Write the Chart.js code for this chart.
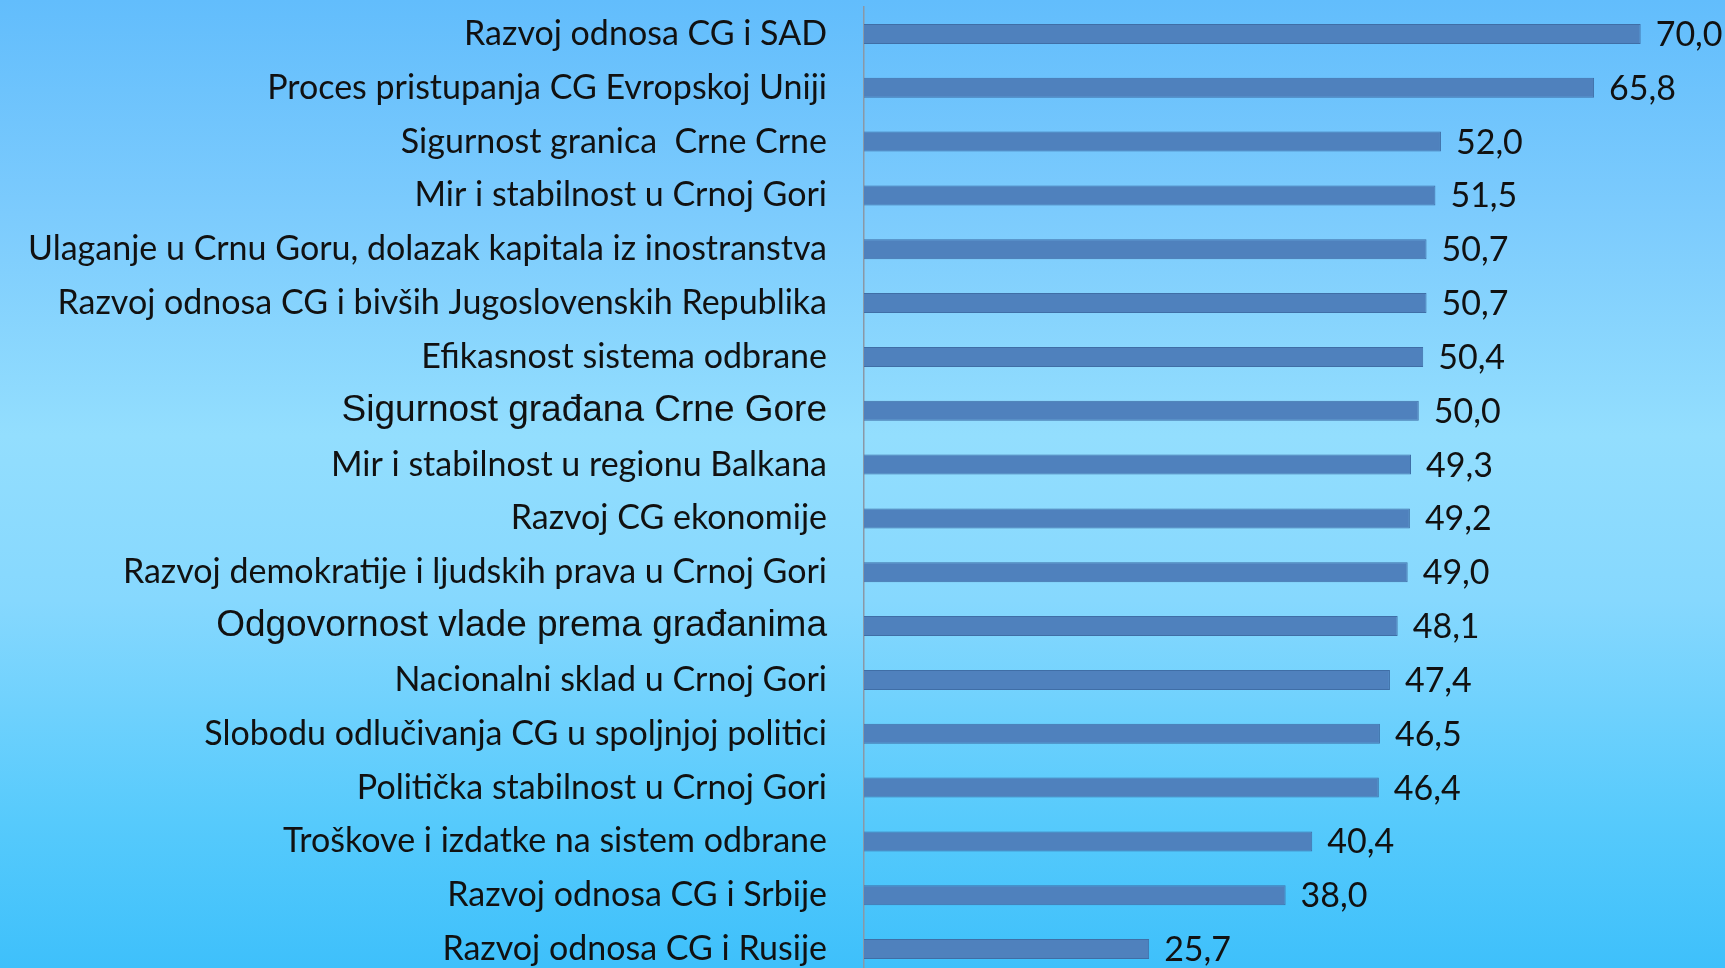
<!DOCTYPE html>
<html>
<head>
<meta charset="utf-8">
<script src="https://cdn.jsdelivr.net/npm/chart.js@4/dist/chart.umd.min.js"></script>
<style>
  html, body { margin: 0; padding: 0; overflow: hidden; }
  body {
    width: 1725px; height: 968px;
    background: linear-gradient(to bottom, #62bdfc 0%, #7ccbfd 22%, #93defe 45%, #86d8fe 62%, #56cafc 85%, #3ec0fb 100%);
  }
  canvas { display: block; }
</style>
</head>
<body>
<canvas id="myChart" width="1725" height="980"></canvas>
<script>
const categories = [
  'Razvoj odnosa CG i SAD',
  'Proces pristupanja CG Evropskoj Uniji',
  'Sigurnost granica  Crne Crne',
  'Mir i stabilnost u Crnoj Gori',
  'Ulaganje u Crnu Goru, dolazak kapitala iz inostranstva',
  'Razvoj odnosa CG i bivših Jugoslovenskih Republika',
  'Efikasnost sistema odbrane',
  'Sigurnost građana Crne Gore',
  'Mir i stabilnost u regionu Balkana',
  'Razvoj CG ekonomije',
  'Razvoj demokratije i ljudskih prava u Crnoj Gori',
  'Odgovornost vlade prema građanima',
  'Nacionalni sklad u Crnoj Gori',
  'Slobodu odlučivanja CG u spoljnjoj politici',
  'Politička stabilnost u Crnoj Gori',
  'Troškove i izdatke na sistem odbrane',
  'Razvoj odnosa CG i Srbije',
  'Razvoj odnosa CG i Rusije'
];
const values = [70.0, 65.8, 52.0, 51.5, 50.7, 50.7, 50.4, 50.0, 49.3, 49.2, 49.0, 48.1, 47.4, 46.5, 46.4, 40.4, 38.0, 25.7];
// labels that were typed in a different font on the slide
const arialLabels = [7, 11];

const labelFont = {family: 'Lato', size: 34};
const arialFont = {family: 'Liberation Sans', size: 37};

const valueLabels = {
  id: 'valueLabels',
  afterDatasetsDraw(chart) {
    const ctx = chart.ctx;
    const meta = chart.getDatasetMeta(0);
    ctx.save();
    ctx.font = labelFont.size + 'px ' + labelFont.family;
    ctx.fillStyle = '#111';
    ctx.textAlign = 'left';
    ctx.textBaseline = 'middle';
    meta.data.forEach((bar, i) => {
      ctx.fillText(values[i].toFixed(1).replace('.', ','), bar.x + 15, bar.y + 1);
    });
    ctx.restore();
  }
};

function drawChart()
{
  const config = {
    type: 'bar',
    data: {
      labels: categories,
      datasets: [{
        data: values,
        backgroundColor: '#4f81bd',
        borderColor: '#3f6ea6',
        borderWidth: 1,
        barPercentage: 0.37,
        categoryPercentage: 1
      }]
    },
    options: {
      indexAxis: 'y',
      responsive: false,
      animation: false,
      layout: {padding: {top: 7, bottom: 4, left: 0, right: 0}},
      plugins: {
        legend: {display: false},
        tooltip: {enabled: false}
      },
      scales: {
        x: {
          display: false,
          min: 0,
          max: 77.6
        },
        y: {
          grid: {display: false, drawTicks: false},
          border: {display: true, color: '#8a98a6', width: 1.5},
          afterFit(scale) {
            scale.width = 864;
            scale.paddingTop = 0;
            scale.paddingBottom = 0;
          },
          ticks: {
            padding: 37,
            color: '#111',
            autoSkip: false,
            font: (c) => arialLabels.includes(c.index) ? arialFont : labelFont
          }
        }
      }
    },
    plugins: [valueLabels]
  };

  const myChart = new Chart(document.getElementById('myChart'), config);
}

window.onload = drawChart;
</script>
</body>
</html>
